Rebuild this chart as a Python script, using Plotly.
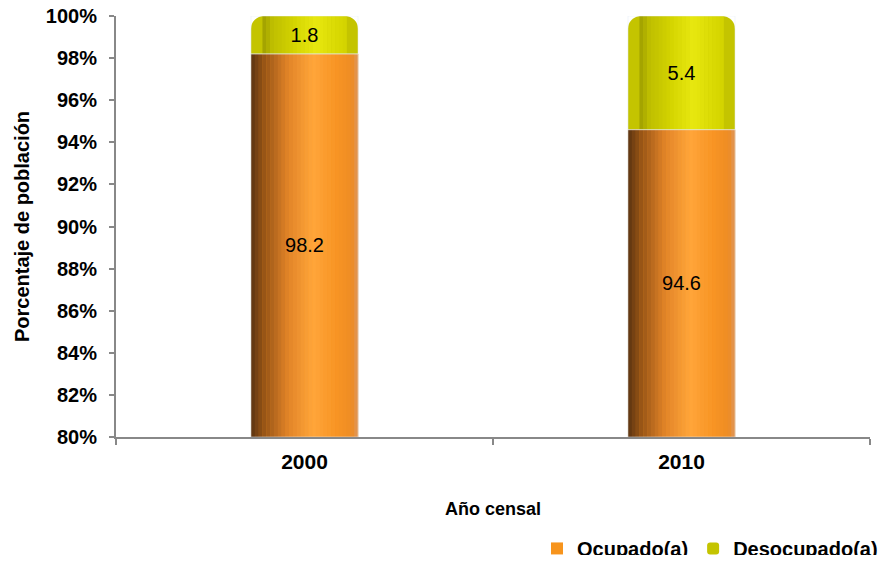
import plotly.graph_objects as go

years = ["2000", "2010"]
ocupado = [98.2, 94.6]
desocupado = [1.8, 5.4]
y_ticks = [80, 82, 84, 86, 88, 90, 92, 94, 96, 98, 100]
Y_MIN, Y_MAX = 80, 100

W = 0.284
N = 28
FONT = "Liberation Sans, Arial, sans-serif"

def lerp(c1, c2, t):
    return tuple(int(round(a + (b - a) * t)) for a, b in zip(c1, c2))

def profile(stops, t):
    for (t0, c0), (t1, c1) in zip(stops, stops[1:]):
        if t0 <= t <= t1:
            return lerp(c0, c1, (t - t0) / (t1 - t0) if t1 > t0 else 0)
    return stops[-1][1]

orange_stops = [(0.0, (92, 52, 16)), (0.12, (150, 84, 22)), (0.35, (226, 132, 40)),
                (0.58, (255, 166, 58)), (0.8, (248, 148, 36)), (0.94, (238, 140, 36)),
                (1.0, (222, 150, 90))]
yellow_stops = [(0.0, (120, 120, 0)), (0.2, (190, 190, 0)), (0.4, (212, 212, 0)),
                (0.6, (232, 232, 16)), (0.85, (214, 214, 0)), (1.0, (200, 200, 0))]

totals = [o + d for o, d in zip(ocupado, desocupado)]

fig = go.Figure()

# full stack column (top segment colour, rounded top)
fig.add_trace(go.Bar(x=years, y=totals, base=[0, 0], width=W, name="Desocupado(a)",
                     marker=dict(color="#C4C400", line=dict(width=0), cornerradius=13),
                     hoverinfo="skip", legendrank=2))
# lower segment
fig.add_trace(go.Bar(x=years, y=ocupado, base=[0, 0], width=W, name="Ocupado(a)",
                     marker=dict(color="#F7941D", line=dict(width=0), cornerradius=0),
                     hoverinfo="skip", legendrank=1))

# gradient strips
for i in range(N):
    t = (i + 0.5) / N
    off = -W / 2 + i * W / N
    c = "rgb(%d,%d,%d)" % profile(orange_stops, t)
    fig.add_trace(go.Bar(x=years, y=ocupado, base=[0, 0], width=W / N * 1.08, offset=off,
                         marker=dict(color=c, line=dict(width=0)), showlegend=False,
                         hoverinfo="skip"))
for i in range(N):
    t = (i + 0.5) / N
    if t < 0.12 or t > 0.88:
        continue
    off = -W / 2 + i * W / N
    c = "rgb(%d,%d,%d)" % profile(yellow_stops, t)
    fig.add_trace(go.Bar(x=years, y=desocupado, base=ocupado, width=W / N * 1.08, offset=off,
                         marker=dict(color=c, line=dict(width=0)), showlegend=False,
                         hoverinfo="skip"))

# labels (centred on the visible part of each segment)
fig.add_trace(go.Bar(x=years, y=[o - Y_MIN for o in ocupado], base=[Y_MIN] * len(years),
                     width=W, showlegend=False,
                     marker=dict(color="rgba(0,0,0,0)"), text=[f"{v:.1f}" for v in ocupado],
                     textposition="inside", insidetextanchor="middle",
                     textfont=dict(size=20, color="black", family=FONT), hoverinfo="skip"))
fig.add_trace(go.Bar(x=years, y=desocupado, base=ocupado, width=W, showlegend=False,
                     marker=dict(color="rgba(0,0,0,0)"), text=[f"{v:.1f}" for v in desocupado],
                     textposition="inside", insidetextanchor="middle",
                     textfont=dict(size=20, color="black", family=FONT), hoverinfo="skip"))

# the page body keeps its default 8px margin; the figure fills the rest of the window
fig.update_layout(
    barmode="overlay",
    width=875, height=547,
    margin=dict(l=108, r=13, t=8, b=118),
    plot_bgcolor="white", paper_bgcolor="white",
    font=dict(family=FONT, color="black"),
    showlegend=True,
    legend=dict(orientation="h", xref="container", yref="container",
                x=1.0, xanchor="right", y=0.012, yanchor="middle",
                font=dict(size=20, family=FONT, weight="bold"),
                itemwidth=30, traceorder="normal", tracegroupgap=0),
    uniformtext=dict(minsize=10, mode="show"),
)
fig.update_xaxes(
    type="category", showline=True, linecolor="#888888", linewidth=2,
    ticks="outside", tickson="boundaries", ticklen=6, tickcolor="#888888", tickwidth=2,
    tickfont=dict(size=21, weight="bold"), ticklabelstandoff=5,
    title=dict(text="Año censal", font=dict(size=18, weight="bold"), standoff=30),
    showgrid=False, automargin=False,
)
fig.update_yaxes(
    range=[Y_MIN, Y_MAX], tickvals=y_ticks, ticktext=[f"{v}%" for v in y_ticks],
    showline=True, linecolor="#888888", linewidth=2,
    ticks="outside", ticklen=5, tickcolor="#888888", tickwidth=2,
    tickfont=dict(size=20, weight="bold"), ticklabelstandoff=8, ticklabeloverflow="allow",
    title=dict(text="Porcentaje de población", font=dict(size=20, weight="bold"), standoff=11),
    showgrid=False, zeroline=False, automargin=False,
)

fig.write_html("out.html", config={"displayModeBar": False})
